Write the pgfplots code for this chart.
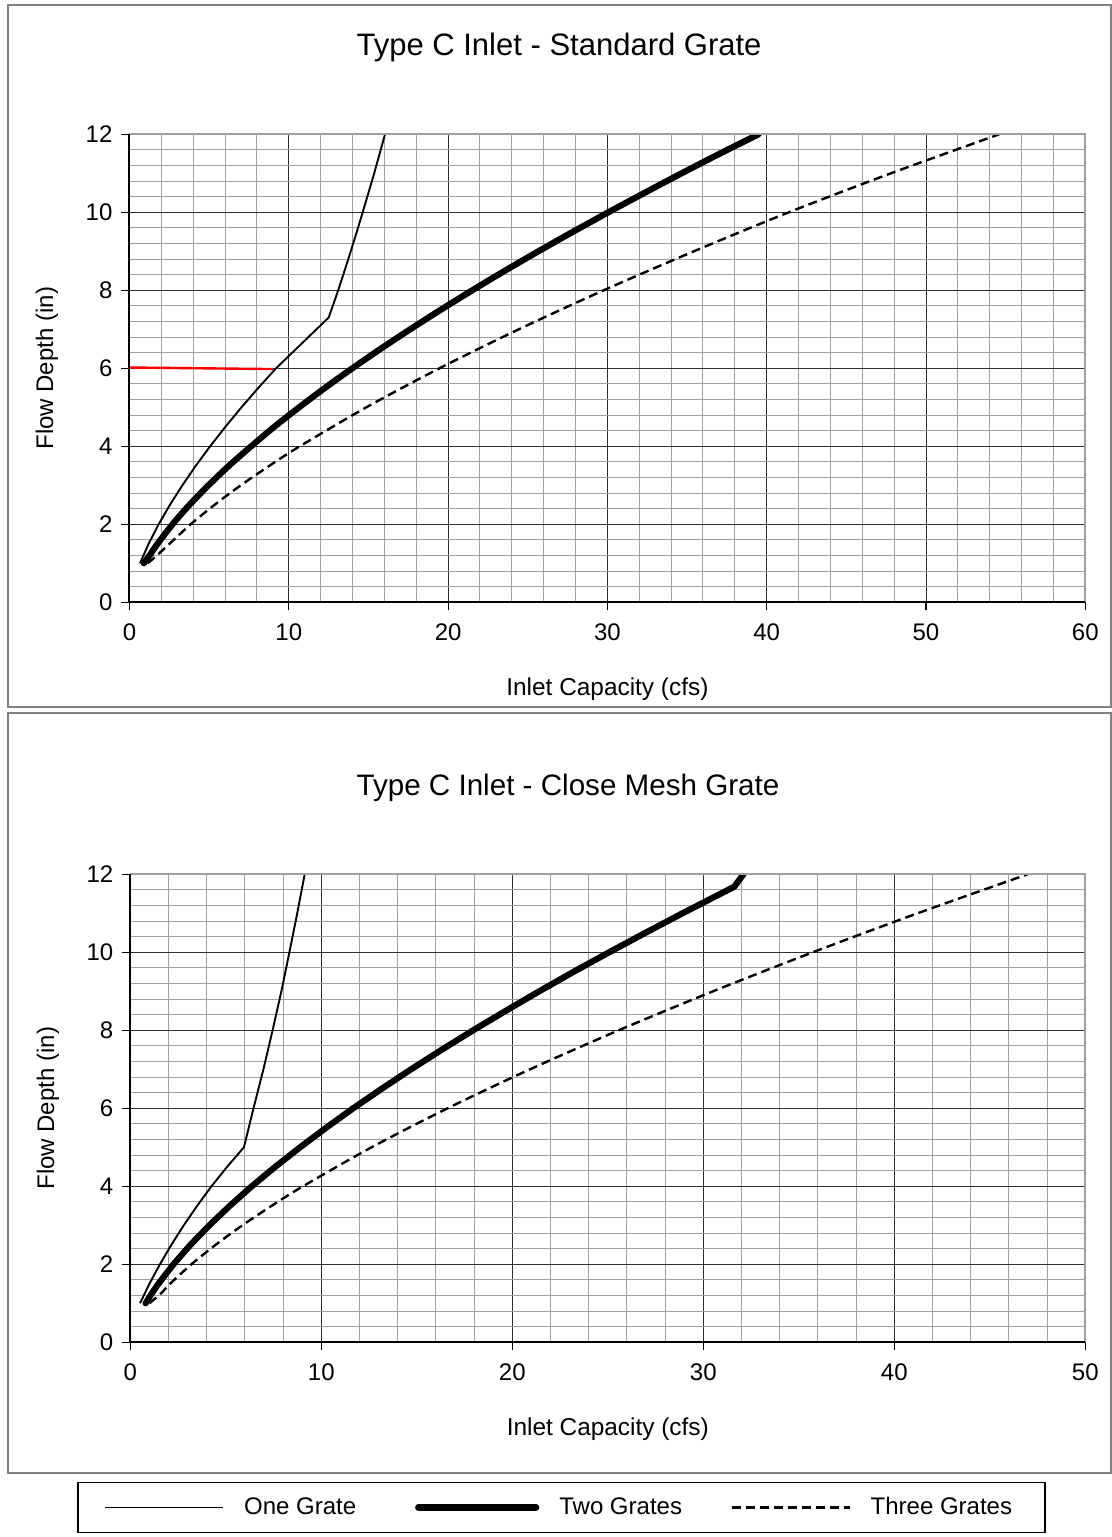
\documentclass[border=0pt]{standalone}
\usepackage{fontspec}
\setmainfont{Liberation Sans}
\usepackage{pgfplots}
\pgfplotsset{compat=1.18}
\definecolor{boxgray}{HTML}{808080}
\definecolor{majgrid}{HTML}{303030}
\definecolor{mingrid}{HTML}{A0A0A0}
\definecolor{frame}{HTML}{A0A0A0}

\pgfplotsset{
  mystyle/.style={
    scale only axis,
    width=477.9pt, height=234pt,
    xmin=0, ymin=0, ymax=12,
    ytick={0,2,...,12},
    minor y tick num=4, minor x tick num=4,
    grid=both,
    major grid style={line width=0.5pt, color=majgrid},
    minor grid style={line width=0.5pt, color=mingrid},
    tick align=outside, major tick length=4pt, minor tick length=0pt,
    xtick pos=bottom, ytick pos=left,
    axis line style={draw=none},
    tick style={black, line width=0.6pt},
    ticklabel style={font=\fontsize{12}{14}\selectfont},
    xticklabel style={yshift=-3pt},
    yticklabel style={xshift=-1pt},
    /pgf/number format/assume math mode=true,
    xlabel style={font=\fontsize{12.2}{14}\selectfont, at={(axis description cs:0.5,-0.1853)}, anchor=center},
    ylabel style={font=\fontsize{12}{14}\selectfont, at={(axis description cs:-0.0863,0.5)}, anchor=center},
    title style={anchor=center, yshift=-8pt},
    xlabel={Inlet Capacity (cfs)},
    ylabel={Flow Depth (in)},
    extra description/.code={
      \draw[line width=1pt, color=frame] (rel axis cs:0,1) -- (rel axis cs:1,1) -- (rel axis cs:1,0);
      \draw[line width=1pt, black] (rel axis cs:0,1) -- (rel axis cs:0,0) -- (rel axis cs:1,0);
    },
    legend image code/.code={\draw[#1] (0pt,0pt) -- (59pt,0pt);},
  },
  onegrate/.style={black, line width=0.95pt, line join=round},
  twogrates/.style={black, line width=3.1pt, line cap=round, line join=round},
  threegrates/.style={black, line width=1.2pt, dash pattern=on 4.5pt off 2.5pt},
}

\begin{document}
\begin{tikzpicture}
\path[use as bounding box] (0,0) rectangle (556pt,768.5pt);
\draw[line width=1pt, color=boxgray] (3.75pt,415pt) rectangle (555.25pt,766pt);
\draw[line width=1pt, color=boxgray] (3.75pt,32pt) rectangle (555.25pt,412pt);

% ---------------- Top chart ----------------
\begin{axis}[mystyle,
  at={(64.75pt,467.35pt)}, anchor=south west,
  xmax=60, xtick={0,10,...,60},
  title={Type C Inlet - Standard Grate},
  title style={font=\fontsize{15.5}{18}\selectfont, at={(axis description cs:0.4494,1.193)}},
]
\addplot[onegrate] coordinates {
(0.66,1) (1.2,1.5) (1.83,2) (2.54,2.5) (3.32,3) (4.16,3.5) (5.06,4) (6.02,4.5)
(7.03,5) (8.09,5.5) (9.2,6) (12.5,7.3) (12.76,7.6) (13.1,8)
(13.5,8.5) (13.89,9) (14.27,9.5) (14.64,10) (15.0,10.5) (15.36,11) (15.70,11.5) (16.04,12)};
\addplot[twogrates, smooth] coordinates {
(0.9,1) (1.34,1.25) (1.76,1.5) (2.70,2) (3.77,2.5) (4.96,3) (6.24,3.5) (7.64,4)
(9.09,4.5) (10.65,5) (12.28,5.5) (13.99,6) (15.77,6.5) (17.62,7) (19.54,7.5) (21.52,8)
(23.56,8.5) (25.67,9) (27.84,9.5) (30.06,10) (32.34,10.5) (34.66,11) (37.04,11.5) (39.49,12)};
\addplot[threegrates, smooth] coordinates {
(1.15,1) (1.85,1.25) (2.51,1.5) (3.84,2) (5.34,2.5) (6.99,3) (8.78,3.5) (10.69,4)
(14.87,5) (19.46,6) (24.44,7) (29.77,8) (35.43,9) (41.39,10) (47.8,11) (54.6,12)};
\addplot[red, line width=1.2pt] coordinates {(0,6.02) (9.0,5.98)};
\end{axis}

% ---------------- Bottom chart ----------------
\begin{axis}[mystyle,
  at={(65.15pt,97.35pt)}, anchor=south west,
  width=477.5pt,
  xmax=50, xtick={0,10,...,50},
  title={Type C Inlet - Close Mesh Grate},
  title style={font=\fontsize{14.8}{18}\selectfont, at={(axis description cs:0.4583,1.193)}},
  legend columns=3,
  legend style={at={(axis description cs:0.4515,-0.353)}, anchor=center,
    draw=black, line width=0.8pt, font=\fontsize{12}{14}\selectfont,
    /tikz/every even column/.append style={column sep=11.5pt},
    inner xsep=13pt, inner ysep=5.5pt},
]
\addplot[onegrate] coordinates {
(0.51,1) (1.0,1.5) (1.55,2) (2.15,2.5) (2.8,3) (3.5,3.5) (4.25,4) (5.07,4.5)
(5.95,5) (6.45,6) (6.97,7) (7.45,8) (7.91,9) (8.33,10) (8.74,11) (9.13,12)};
\addlegendentry{\makebox[80pt][l]{\hspace{8pt}One Grate}}
\addplot[twogrates] coordinates {
(0.8,1) (1.12,1.25) (1.47,1.5) (2.26,2) (3.15,2.5) (4.14,3) (5.21,3.5) (6.36,4)
(7.59,4.5) (8.89,5) (10.25,5.5) (11.67,6) (13.16,6.5) (14.70,7) (16.30,7.5) (17.95,8)
(19.66,8.5) (21.41,9) (23.21,9.5) (25.07,10) (26.97,10.5) (28.91,11) (30.90,11.5)
(31.62,11.68) (32.1,12)};
\addlegendentry{\makebox[80pt][l]{\hspace{8pt}Two Grates}}
\addplot[threegrates, smooth] coordinates {
(1.0,1) (1.6,1.25) (2.08,1.5) (3.2,2) (4.47,2.5) (5.87,3) (7.40,3.5) (9.04,4)
(12.63,5) (16.61,6) (20.93,7) (25.57,8) (30.51,9) (35.73,10) (41.22,11) (46.98,12)};
\addlegendentry{\makebox[80pt][l]{\hspace{8pt}Three Grates}}
\end{axis}
\end{tikzpicture}
\end{document}
